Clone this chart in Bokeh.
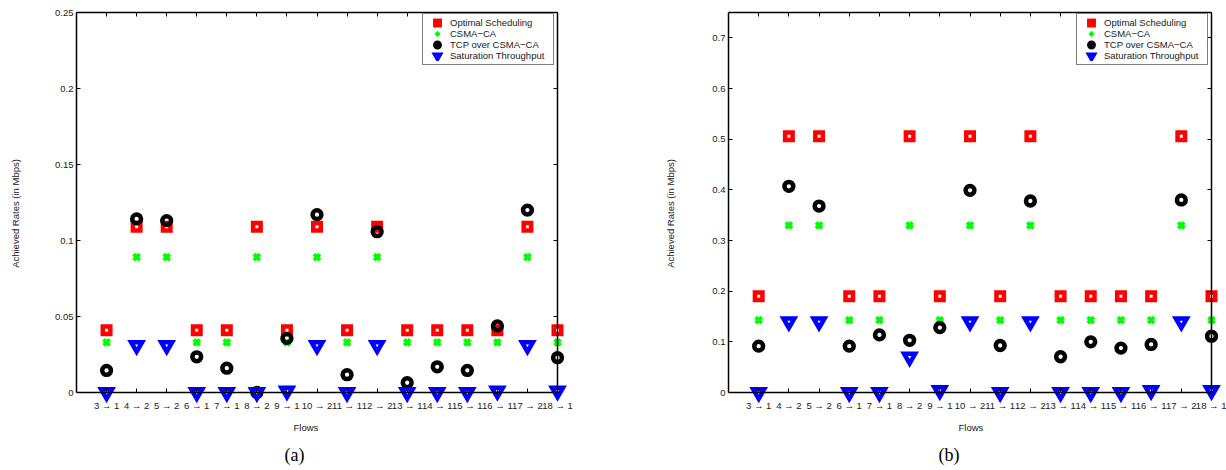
from bokeh.plotting import figure
from bokeh.models import (Range1d, LinearAxis, FixedTicker, NumeralTickFormatter,
                          Legend, LegendItem, Title)
from bokeh.layouts import row
from bokeh.embed import file_html
from bokeh.resources import INLINE

# ---------------- data ----------------
flows = ["3 → 1", "4 → 2", "5 → 2", "6 → 1", "7 → 1", "8 → 2", "9 → 1", "10 → 2",
         "11 → 1", "12 → 2", "13 → 1", "14 → 1", "15 → 1", "16 → 1", "17 → 2", "18 → 1"]

series_labels = ["Optimal Scheduling", "CSMA−CA", "TCP over CSMA−CA", "Saturation Throughput"]

# panel (a)
a_optimal = [0.041, 0.109, 0.109, 0.041, 0.041, 0.109, 0.041, 0.109,
             0.041, 0.109, 0.041, 0.041, 0.041, 0.041, 0.109, 0.041]
a_csma = [0.033, 0.089, 0.089, 0.033, 0.033, 0.089, 0.033, 0.089,
          0.033, 0.089, 0.033, 0.033, 0.033, 0.033, 0.089, 0.033]
a_tcp = [0.0145, 0.1142, 0.1131, 0.0235, 0.016, 0.0, 0.0356, 0.117,
         0.0117, 0.1058, 0.0064, 0.0169, 0.0145, 0.0438, 0.120, 0.0229]
a_saturation = [0.0, 0.031, 0.031, 0.0, 0.0, 0.0, 0.001, 0.031,
                0.0, 0.031, 0.0, 0.0, 0.0, 0.001, 0.031, 0.001]
a_yticks = [0, 0.05, 0.1, 0.15, 0.2, 0.25]

# panel (b)
b_optimal = [0.19, 0.506, 0.506, 0.19, 0.19, 0.506, 0.19, 0.506,
             0.19, 0.506, 0.19, 0.19, 0.19, 0.19, 0.506, 0.19]
b_csma = [0.143, 0.33, 0.33, 0.143, 0.143, 0.33, 0.143, 0.33,
          0.143, 0.33, 0.143, 0.143, 0.143, 0.143, 0.33, 0.143]
b_tcp = [0.0915, 0.407, 0.368, 0.0915, 0.1137, 0.103, 0.128, 0.399,
         0.0928, 0.378, 0.0706, 0.100, 0.0876, 0.0948, 0.380, 0.111]
b_saturation = [0.0, 0.14, 0.14, 0.0, 0.0, 0.07, 0.004, 0.14,
                0.0, 0.14, 0.0, 0.0, 0.0, 0.004, 0.14, 0.004]
b_yticks = [0, 0.1, 0.2, 0.3, 0.4, 0.5, 0.6, 0.7]

FONT = "Liberation Sans"
SERIF = "Liberation Serif"
TXT = "#1a1a1a"
FS = "9.5px"


def style_axis(ax):
    ax.axis_line_color = "black"
    ax.axis_line_width = 1.5
    ax.major_tick_line_color = "black"
    ax.major_tick_line_width = 1
    ax.major_tick_in = 4
    ax.major_tick_out = 0
    ax.minor_tick_line_color = None
    ax.major_label_text_font = FONT
    ax.major_label_text_font_size = FS
    ax.major_label_text_color = TXT


def hide_labels(ax):
    # border-only axis: ticks, no labels drawn
    ax.major_label_text_color = None
    ax.major_label_text_font_size = "0px"
    ax.major_label_standoff = 0


def panel(opt, csma, tcp, sat, y_max, y_ticks, y_format, caption, g):
    n = len(flows)
    xs = list(range(1, n + 1))
    extra_r, extra_b = g["extra_r"], 22   # frame room beyond the box: edge markers and tick labels stay visible
    fw = g["plot_w"] + extra_r
    fh = g["plot_h"] + extra_b
    x_end = n * fw / g["plot_w"]
    y_start = -y_max * extra_b / g["plot_h"]
    p = figure(width=g["left"] + fw + g["right"], height=470,
               frame_width=fw, frame_height=fh,
               min_border_left=g["left"], min_border_right=g["right"],
               min_border_top=12, min_border_bottom=470 - 12 - fh,
               x_range=Range1d(0, x_end), y_range=Range1d(y_start, y_max),
               x_axis_location=None, y_axis_location="left",
               output_backend="svg", toolbar_location=None,
               background_fill_color="white", border_fill_color="white")
    p.outline_line_color = None
    p.grid.visible = False

    yax = p.yaxis[0]
    style_axis(yax)
    yax.ticker = FixedTicker(ticks=y_ticks)
    yax.formatter = NumeralTickFormatter(format=y_format)
    yax.bounds = (0, y_max)
    yax.major_label_standoff = 3
    yax.axis_label = "Achieved Rates (in Mbps)"
    yax.axis_label_text_font = FONT
    yax.axis_label_text_font_size = FS
    yax.axis_label_text_font_style = "normal"
    yax.axis_label_text_color = TXT
    yax.axis_label_standoff = g["ylab_standoff"]

    xax = LinearAxis(fixed_location=0, bounds=(0, n), ticker=FixedTicker(ticks=xs),
                     major_label_overrides={x: f for x, f in zip(xs, flows)})
    style_axis(xax)
    xax.major_label_standoff = 7
    p.add_layout(xax, "below")

    rax = LinearAxis(fixed_location=n, bounds=(0, y_max), ticker=FixedTicker(ticks=y_ticks))
    style_axis(rax)
    hide_labels(rax)
    p.add_layout(rax, "right")

    tax = LinearAxis(bounds=(0, n), ticker=FixedTicker(ticks=xs))
    style_axis(tax)
    hide_labels(tax)
    p.add_layout(tax, "above")

    r_opt = p.scatter(xs, opt, marker="square", size=7.5, line_color="#ff0000",
                      line_width=4.5, fill_color=None, line_join="miter")
    r_csma = p.scatter(xs, csma, marker="x", size=8.5, line_color="#00ff00", line_width=3.8)
    r_tcp = p.scatter(xs, tcp, marker="circle", size=8.8, line_color="black",
                      line_width=4.5, fill_color=None)
    r_sat = p.scatter(xs, sat, marker="inverted_triangle", size=11, line_color="#0000ff",
                      line_width=4.5, fill_color=None, line_join="miter")

    legend = Legend(items=[LegendItem(label=l, renderers=[r]) for l, r in
                           zip(series_labels, [r_opt, r_csma, r_tcp, r_sat])],
                    location=g["legend_xy"], padding=3, spacing=0, margin=0,
                    glyph_width=22, glyph_height=11, label_height=11, label_width=100,
                    label_standoff=2, label_text_font=FONT, label_text_font_size=FS,
                    label_text_color=TXT, border_line_color="black", border_line_width=1,
                    background_fill_color="white", background_fill_alpha=1)
    p.add_layout(legend)

    p.add_layout(Title(text="Flows", align="left", offset=g["flows_off"], text_font=FONT,
                       text_font_size=FS, text_font_style="normal", text_color=TXT), "below")
    p.add_layout(Title(text=caption, align="left", offset=g["cap_off"], text_font=SERIF,
                       text_font_size="18px", text_font_style="normal", text_color="black"),
                 "below")
    return p


g1 = dict(left=76, right=53, plot_w=481, plot_h=380, extra_r=18, ylab_standoff=31,
          legend_xy=(346, 349), flows_off=217, cap_off=208)
g2 = dict(left=100, right=0, plot_w=483, plot_h=380, extra_r=15, ylab_standoff=33,
          legend_xy=(348, 349), flows_off=230, cap_off=210)

p1 = panel(a_optimal, a_csma, a_tcp, a_saturation, 0.25, a_yticks, "0.[00]", "(a)", g1)
p2 = panel(b_optimal, b_csma, b_tcp, b_saturation, 0.75, b_yticks, "0.[0]", "(b)", g2)

layout = row(p1, p2)
open("out.html", "w").write(file_html(layout, INLINE))
